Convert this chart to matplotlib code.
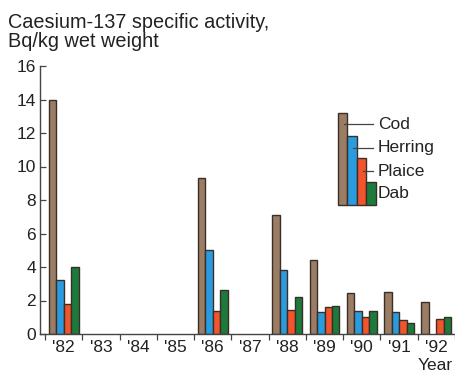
import matplotlib
matplotlib.use("Agg")
import matplotlib.pyplot as plt
import numpy as np
from matplotlib.patches import Rectangle
from matplotlib.lines import Line2D

plt.rcParams['font.family'] = ['Liberation Sans', 'DejaVu Sans']

years = ["'82", "'83", "'84", "'85", "'86", "'87", "'88", "'89", "'90", "'91", "'92"]
species = ["Cod", "Herring", "Plaice", "Dab"]
cod     = [14.0, None, None, None, 9.3, None, 7.1, 4.4, 2.45, 2.5, 1.9]
herring = [3.2, None, None, None, 5.0, None, 3.8, 1.3, 1.4, 1.3, None]
plaice  = [1.8, None, None, None, 1.4, None, 1.45, 1.6, 1.0, 0.85, 0.9]
dab     = [4.0, None, None, None, 2.6, None, 2.2, 1.65, 1.4, 0.65, 1.0]
colors = ["#9a7d64", "#2b9be0", "#f2552d", "#1b7a3c"]
edge = "#3a2e26"
txt = "#222222"

fig = plt.figure(figsize=(4.56, 3.74), dpi=100)
ax = fig.add_axes([40/456, 1 - 334/374, 415/456, (334 - 66)/374])

x = np.arange(len(years))
width = 0.2
for j, (vals, col) in enumerate(zip([cod, herring, plaice, dab], colors)):
    xs = [xi + (j - 1.5) * width for xi, v in zip(x, vals) if v is not None]
    hs = [v for v in vals if v is not None]
    ax.bar(xs, hs, width=width, color=col, edgecolor=edge, linewidth=1.0, zorder=2)

ax.set_ylim(0, 16)
ax.set_xlim(-0.634, 10.5)
ax.set_yticks(np.arange(0, 17, 2))
ax.set_yticklabels([str(v) for v in range(0, 17, 2)], fontsize=12.5, color=txt)
ax.set_xticks(x)
ax.set_xticklabels(years, fontsize=12.5, color=txt)
ax.set_xticks(np.arange(-0.5, 10.6, 1), minor=True)
ax.tick_params(axis='x', which='major', length=0, pad=4)
ax.tick_params(axis='x', which='minor', length=4, direction='out', width=0.9, color="#444444")
ax.tick_params(axis='y', which='major', length=4, direction='in', width=0.9, color="#444444", pad=3)
for s in ['top', 'right']:
    ax.spines[s].set_visible(False)
for s in ['left', 'bottom']:
    ax.spines[s].set_color("#444444")
    ax.spines[s].set_linewidth(1.0)

# legend drawn as a miniature bar group with leader lines
leg_x0 = 338 / 456
leg_w = 9.5 / 456
leg_bottom = 1 - 205 / 374
leg_tops = [113, 136, 158, 182]
line_y = [124, 148, 171]
label_base = [129, 152, 176, 198]
for j, (name, col) in enumerate(zip(species, colors)):
    top = 1 - leg_tops[j] / 374
    fig.patches.append(Rectangle((leg_x0 + j * leg_w, leg_bottom), leg_w, top - leg_bottom,
                                 transform=fig.transFigure, facecolor=col, edgecolor=edge,
                                 linewidth=1.0, zorder=3))
    if j < 3:
        ly = 1 - line_y[j] / 374
        fig.lines.append(Line2D([leg_x0 + j * leg_w + 0.6 * leg_w, 373 / 456], [ly, ly],
                                transform=fig.transFigure, color="#444444", linewidth=0.9, zorder=4))
    fig.text(378 / 456, 1 - label_base[j] / 374, name, fontsize=12.5, va='baseline',
             ha='left', color=txt)

fig.text(8 / 456, 1 - 28 / 374, "Caesium-137 specific activity,", fontsize=14.3,
         va='baseline', ha='left', color=txt)
fig.text(8 / 456, 1 - 47 / 374, "Bq/kg wet weight", fontsize=14.3,
         va='baseline', ha='left', color=txt)
fig.text(453 / 456, 1 - 366 / 374, "Year", fontsize=12.5, va='center', ha='right',
         color=txt)

fig.savefig("out.png", dpi=100)
